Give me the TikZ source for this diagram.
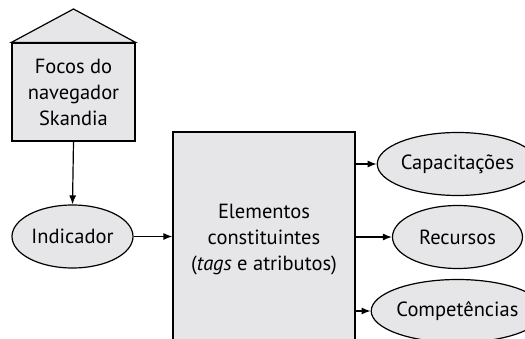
\documentclass[tikz,border=0pt]{standalone}
\usepackage{fontspec}
\setmainfont{PT Sans}
\usetikzlibrary{shapes.geometric,arrows.meta}
\definecolor{boxgray}{RGB}{230,230,232}
\tikzset{
  lbl/.style={font=\fontsize{20.5}{26}\selectfont, align=center},
  boxshape/.style={draw=black, line width=1.2pt, fill=boxgray, rectangle, inner sep=0pt},
  ell/.style={draw=black, line width=1.2pt, fill=boxgray, ellipse, inner sep=0pt, lbl},
  conn/.style={line width=1.2pt, -{Latex[length=9pt,width=7pt]}},
}
\begin{document}
\begin{tikzpicture}[x=1pt,y=-1pt]
\useasboundingbox (0,0) rectangle (525,339);
\begin{scope}
\clip (0,0) rectangle (525,339);
% house
\node[boxshape, lbl, minimum width=123pt, minimum height=98pt] (foco) at (73.5,92) {Focos do\\navegador\\Skandia};
\coordinate (apex) at (73.5,9);
\draw[line width=1.2pt, fill=boxgray, line join=miter] (foco.north west) -- (apex) -- (foco.north east) -- cycle;
% indicator
\node[ell, minimum width=121pt, minimum height=63pt] (ind) at (72.5,236.5) {Indicador};
% big box
\node[boxshape, lbl, minimum width=182pt, minimum height=215pt] (elbox) at (264,239.5) {Elementos\\constituintes\\(\textit{tags} e atributos)};
% right ellipses
\node[ell, minimum width=130pt, minimum height=63pt] (cap) at (457.5,164) {Capacita\c{c}\~oes};
\node[ell, minimum width=130pt, minimum height=63pt] (rec) at (457.5,237) {Recursos};
\node[ell, minimum width=130pt, minimum height=63pt] (comp) at (457.5,311) {Compet\^encias};
% connectors
\draw[conn] (foco.south) -- (ind.north);
\draw[conn] (ind.east) -- (elbox.west |- ind.east);
\draw[conn] (elbox.east |- cap.west) -- (cap.west);
\draw[conn] (elbox.east |- rec.west) -- (rec.west);
\draw[conn] (elbox.east |- comp.west) -- (comp.west);
\end{scope}
\end{tikzpicture}
\end{document}
